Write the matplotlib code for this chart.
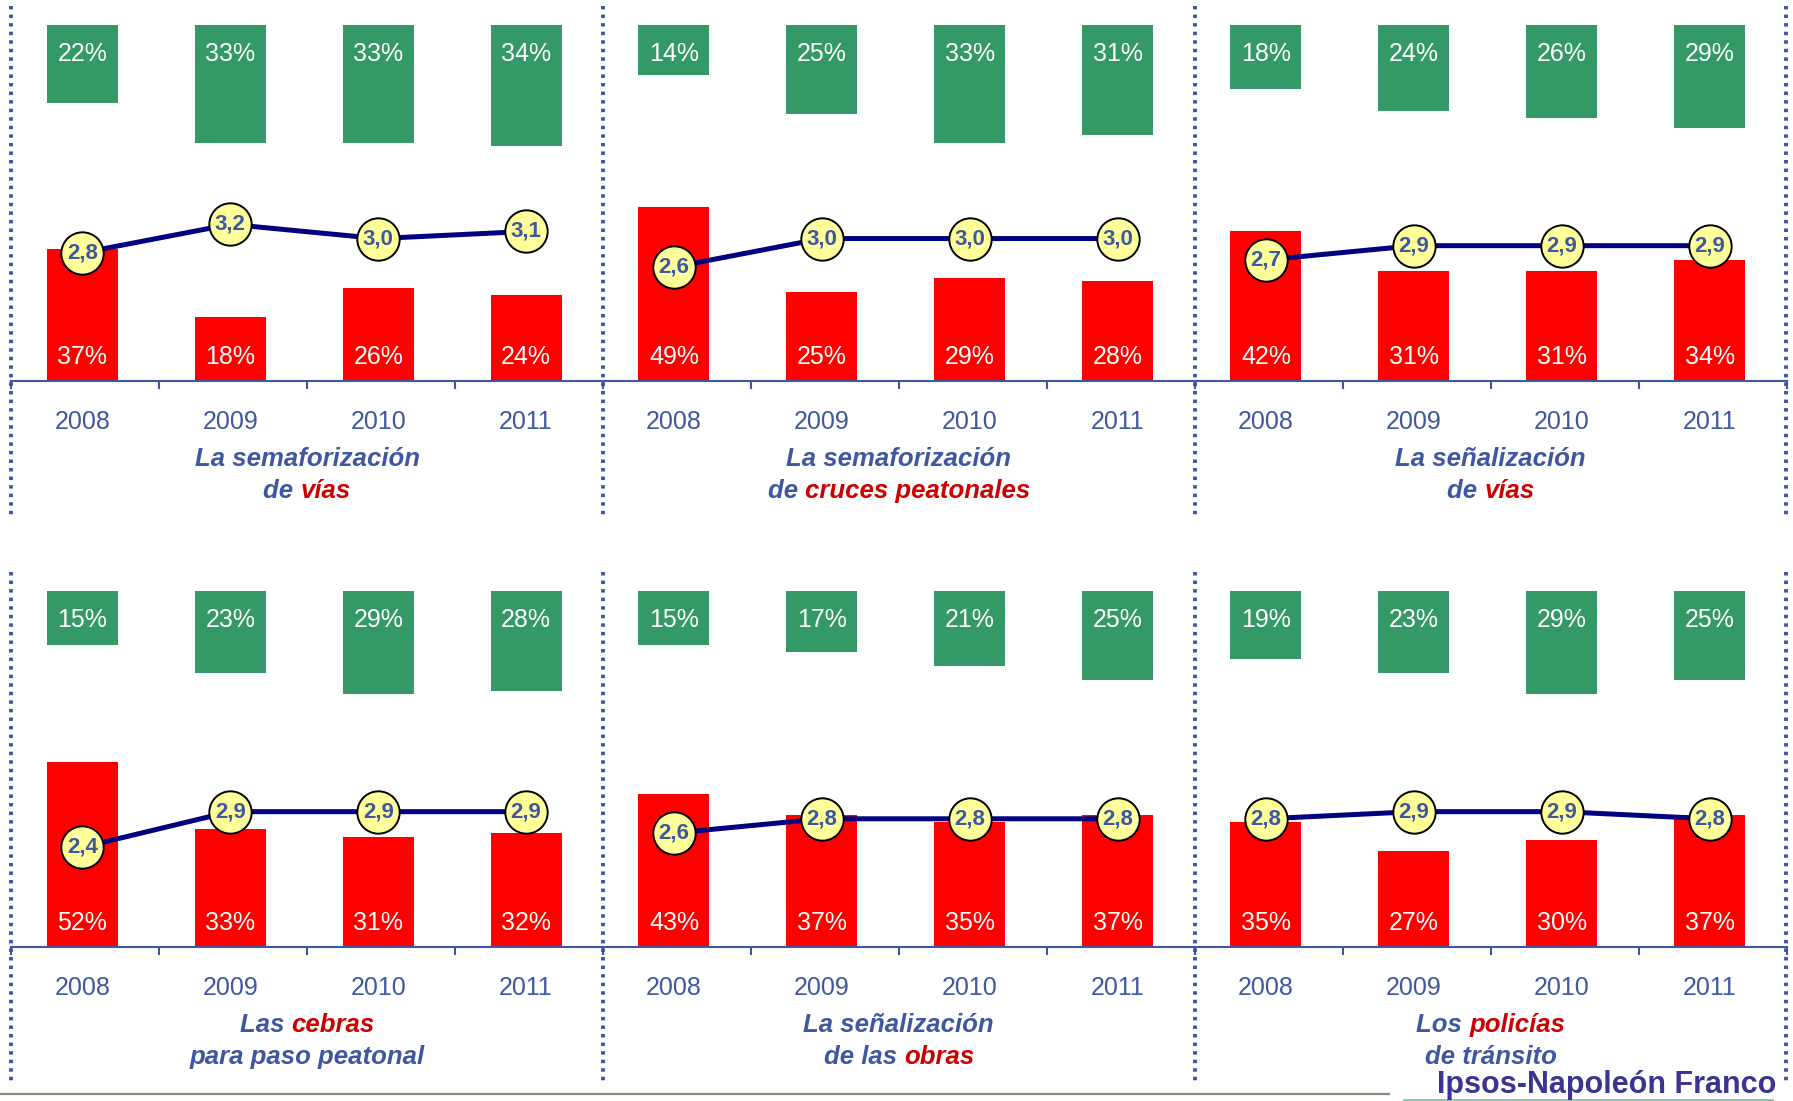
import numpy as np
import matplotlib
matplotlib.use('Agg')
import matplotlib.pyplot as plt
from matplotlib.lines import Line2D

plt.rcParams['font.family'] = ['Liberation Sans', 'DejaVu Sans']

years = ['2008', '2009', '2010', '2011']

# title lines: list of (text, is_red) pieces
titles = [
    [[('La semaforización', False)], [('de ', False), ('vías', True)]],
    [[('La semaforización', False)], [('de ', False), ('cruces peatonales', True)]],
    [[('La señalización', False)], [('de ', False), ('vías', True)]],
    [[('Las ', False), ('cebras', True)], [('para paso peatonal', False)]],
    [[('La señalización', False)], [('de las ', False), ('obras', True)]],
    [[('Los ', False), ('policías', True)], [('de tránsito', False)]],
]

good_pct = [
    [22, 33, 33, 34],
    [14, 25, 33, 31],
    [18, 24, 26, 29],
    [15, 23, 29, 28],
    [15, 17, 21, 25],
    [19, 23, 29, 25],
]
bad_pct = [
    [37, 18, 26, 24],
    [49, 25, 29, 28],
    [42, 31, 31, 34],
    [52, 33, 31, 32],
    [43, 37, 35, 37],
    [35, 27, 30, 37],
]
mean_score = [
    [2.8, 3.2, 3.0, 3.1],
    [2.6, 3.0, 3.0, 3.0],
    [2.7, 2.9, 2.9, 2.9],
    [2.4, 2.9, 2.9, 2.9],
    [2.6, 2.8, 2.8, 2.8],
    [2.8, 2.9, 2.9, 2.8],
]

GREEN = '#339966'
RED = '#FF0000'
BLUE_TXT = '#3F57A0'
RED_TXT = '#CC0000'
NAVY = '#000080'
YELLOW = '#FFFF99'

W, H = 1793, 1101
fig = plt.figure(figsize=(W / 100, H / 100), dpi=100)

col_left = [11.4, 603.0, 1195.0]
panel_w = 591.6
row_base = [380.8, 946.8]
panel_h = 355.6

x = np.arange(4)
xb = x - 0.02  # bars sit a touch left of the category centre
axes = []
for i in range(6):
    r, c = divmod(i, 3)
    ax = fig.add_axes([col_left[c] / W, (H - row_base[r]) / H, panel_w / W, panel_h / H])
    axes.append(ax)
    ax.set_xlim(-0.5, 3.5)
    ax.set_ylim(0, 100)

    g = np.array(good_pct[i])
    b = np.array(bad_pct[i])
    ax.bar(xb, g, bottom=100 - g, width=0.48, color=GREEN, zorder=2)
    ax.bar(xb, b, width=0.48, color=RED, zorder=2)
    for xi, gv, bv in zip(xb, g, b):
        ax.text(xi, 92.0, f'{gv}%', ha='center', va='center', color='white', fontsize=18)
        ax.text(xi, 6.6, f'{bv}%', ha='center', va='center', color='white', fontsize=18)

    for s in ['top', 'left', 'right']:
        ax.spines[s].set_visible(False)
    ax.spines['bottom'].set_color(BLUE_TXT)
    ax.spines['bottom'].set_linewidth(1.5)
    ax.set_yticks([])
    ax.set_xticks(np.arange(-0.5, 4.0, 1.0))
    ax.set_xticklabels([])
    ax.tick_params(axis='x', direction='out', length=6, width=1.5, color=BLUE_TXT)
    ax.patch.set_alpha(0)

    for xi, yr in zip(xb, years):
        ax.annotate(yr, xy=(xi, 0), xycoords=('data', 'axes fraction'),
                    xytext=(0, -29.5), textcoords='offset points',
                    ha='center', va='center', color=BLUE_TXT, fontsize=18)

    ax2 = ax.twinx()
    ax2.set_ylim(1, 6)
    ax2.set_axis_off()
    ax2.plot(xb, mean_score[i], color=NAVY, lw=3.6, marker='o', ms=30.5,
             mfc=YELLOW, mec='black', mew=1.4, zorder=3)
    for xi, m in zip(xb, mean_score[i]):
        ax2.text(xi, m, f'{m:.1f}'.replace('.', ','), ha='center', va='center',
                 color=BLUE_TXT, fontsize=16, fontweight='bold', zorder=4)

# multi-coloured two-line titles under each panel
renderer = fig.canvas.get_renderer()
for ax, lines in zip(axes, titles):
    for li, parts in enumerate(lines):
        y_pt = -56.5 if li == 0 else -79.5
        texts = []
        for s, is_red in parts:
            t = ax.annotate(s, xy=(0.5, 0), xycoords='axes fraction',
                            xytext=(0, y_pt), textcoords='offset points',
                            ha='left', va='center', fontsize=18.5,
                            fontweight='bold', fontstyle='italic',
                            color=RED_TXT if is_red else BLUE_TXT)
            texts.append(t)
        widths = [t.get_window_extent(renderer).width * 72 / fig.dpi for t in texts]
        pos = -sum(widths) / 2
        for t, w in zip(texts, widths):
            t.xyann = (pos, y_pt)
            pos += w

# dotted panel separators
for xp in [11.4, 602.6, 1195.0, 1786.0]:
    for y0, y1 in [(5.7, 514.6), (571.8, 1080.6)]:
        fig.add_artist(Line2D([xp / W, xp / W], [1 - y0 / H, 1 - y1 / H],
                              color='#3F55A3', lw=2.8, ls=(0, (0.9, 1.3)),
                              dash_capstyle='butt'))

# footer
fig.add_artist(Line2D([0, 1389 / W], [1 - 1094 / H, 1 - 1094 / H], color='#8C8C7C', lw=1.6))
fig.add_artist(Line2D([1404 / W, 1772 / W], [1 - 1099.5 / H, 1 - 1099.5 / H], color='#7FC6B0', lw=2))
fig.text(1437 / W, 1 - 1093 / H, 'Ipsos-Napoleón Franco', ha='left', va='baseline',
         fontsize=22, fontweight='bold', color='#3D3391')

fig.savefig('out.png', dpi=100)
